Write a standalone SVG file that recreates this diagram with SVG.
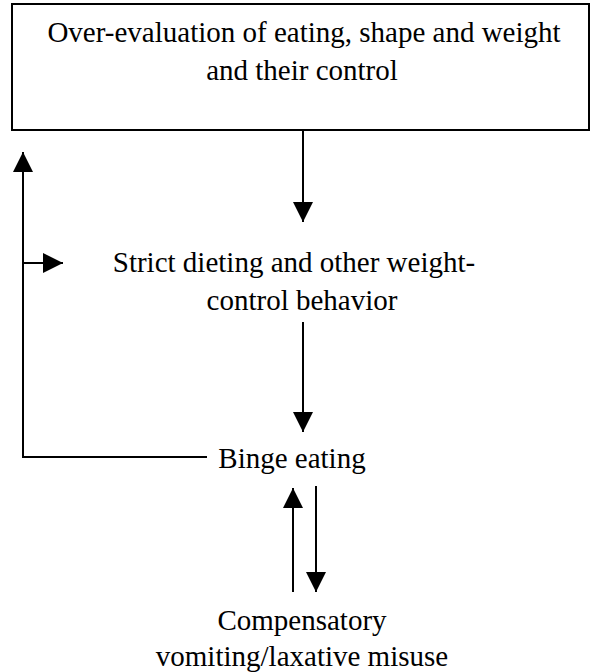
<svg xmlns="http://www.w3.org/2000/svg" width="590" height="672" viewBox="0 0 590 672">
<style>
text{font-family:'Liberation Serif','Times New Roman',Times,'DejaVu Serif',serif;font-size:29px;fill:#000;text-anchor:middle}
.ln{stroke:#000;stroke-width:2;fill:none}
</style>
<defs>
<marker id="ah" viewBox="0 0 20 20" refX="20" refY="10" markerWidth="20" markerHeight="20" markerUnits="userSpaceOnUse" orient="auto">
<path d="M0,0 L20,10 L0,20 Z" fill="#000"/>
</marker>
</defs>
<rect width="590" height="672" fill="#fff"/>
<g id="overevaluation">
<rect x="12" y="4" width="577" height="126" class="ln"/>
<text x="304" y="42">Over-evaluation of eating, shape and weight</text>
<text x="302" y="80">and their control</text>
</g>
<g id="dieting">
<text x="294" y="272">Strict dieting and other weight-</text>
<text x="302" y="310">control behavior</text>
</g>
<g id="binge">
<text x="292" y="468">Binge eating</text>
</g>
<g id="compensatory">
<text x="302" y="630">Compensatory</text>
<text x="302" y="666">vomiting/laxative misuse</text>
</g>
<g id="connectors">
<line x1="303" y1="130" x2="303" y2="222" class="ln" marker-end="url(#ah)"/>
<line x1="303" y1="322" x2="303" y2="432" class="ln" marker-end="url(#ah)"/>
<polyline points="207,457 23,457 23,152" class="ln" marker-end="url(#ah)"/>
<line x1="23" y1="263" x2="63" y2="263" class="ln" marker-end="url(#ah)"/>
<line x1="293" y1="592" x2="293" y2="488" class="ln" marker-end="url(#ah)"/>
<line x1="316" y1="486" x2="316" y2="592" class="ln" marker-end="url(#ah)"/>
</g>
</svg>
